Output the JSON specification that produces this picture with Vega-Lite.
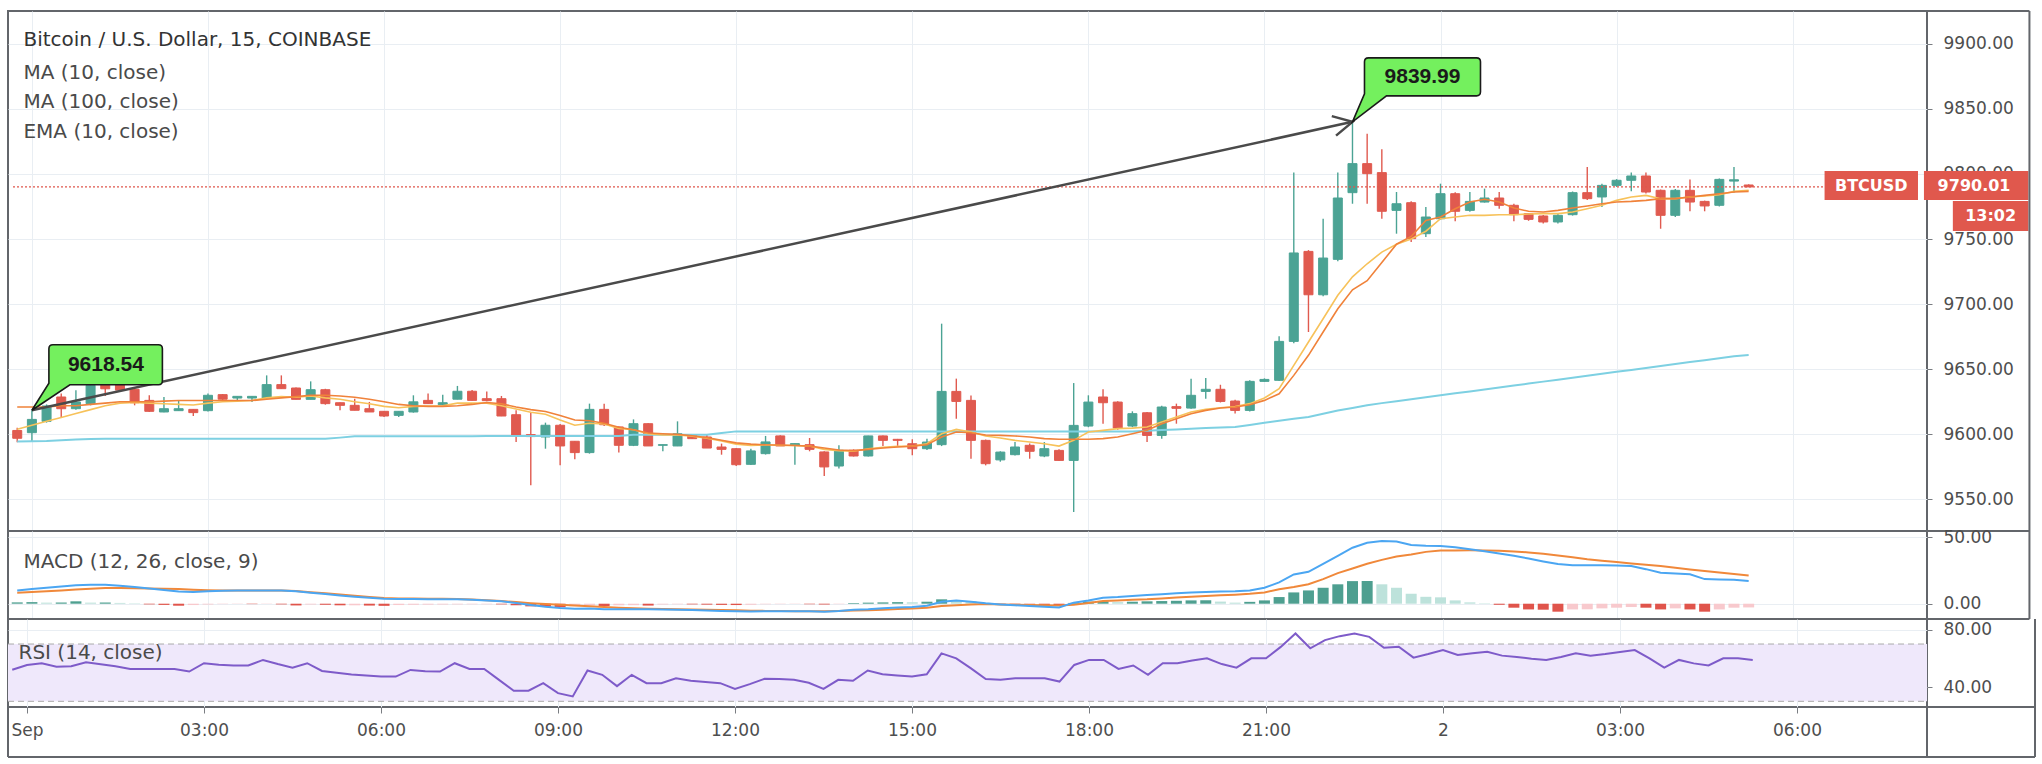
{
  "$schema": "https://vega.github.io/schema/vega-lite/v6.json",
  "padding": {"left": 6, "top": 9, "right": 0, "bottom": 0},
  "background": "white",
  "bounds": "flush",
  "spacing": 0,
  "datasets": {
    "bars": [
      {"t":"2019-08-31T23:45:00Z","o":9603,"h":9605,"l":9594,"c":9597,"ma":9621,"ema":9604,"ma100":9594.5,"m":10,"s":8.3,"hi":1.0,"r":52},
      {"t":"2019-09-01T00:00:00Z","o":9601.3,"h":9618.5,"l":9594.7,"c":9611.5,"ma":9621,"ema":9607,"ma100":9594.8,"m":11,"s":8.8,"hi":1.2,"r":55.4},
      {"t":"2019-09-01T00:15:00Z","o":9610,"h":9623,"l":9609,"c":9621.8,"ma":9621,"ema":9610,"ma100":9595,"m":12,"s":9.3,"hi":0.8,"r":56.6},
      {"t":"2019-09-01T00:30:00Z","o":9628.7,"h":9631.3,"l":9612.6,"c":9619.7,"ma":9622,"ema":9613,"ma100":9595.5,"m":13,"s":10,"hi":0.9,"r":54.2},
      {"t":"2019-09-01T00:45:00Z","o":9619.7,"h":9633.8,"l":9619,"c":9624.9,"ma":9622,"ema":9616,"ma100":9596,"m":13.8,"s":10.7,"hi":1.8,"r":54.5},
      {"t":"2019-09-01T01:00:00Z","o":9623.6,"h":9639,"l":9622.3,"c":9637.7,"ma":9623,"ema":9619,"ma100":9596.5,"m":14.2,"s":11.3,"hi":0.8,"r":57.2},
      {"t":"2019-09-01T01:15:00Z","o":9639,"h":9640,"l":9629.5,"c":9635,"ma":9624,"ema":9622,"ma100":9596.7,"m":14.3,"s":11.8,"hi":0.9,"r":55.9},
      {"t":"2019-09-01T01:30:00Z","o":9638,"h":9639,"l":9633,"c":9634,"ma":9625,"ema":9624,"ma100":9596.7,"m":13.5,"s":11.8,"hi":0.6,"r":54.5},
      {"t":"2019-09-01T01:45:00Z","o":9634.6,"h":9635,"l":9622.3,"c":9624.3,"ma":9625,"ema":9624.5,"ma100":9596.7,"m":12.6,"s":11.6,"hi":0.3,"r":52.6},
      {"t":"2019-09-01T02:00:00Z","o":9626.1,"h":9630,"l":9617.2,"c":9617.7,"ma":9625,"ema":9624,"ma100":9596.7,"m":11.5,"s":11.4,"hi":-0.5,"r":52.6},
      {"t":"2019-09-01T02:15:00Z","o":9617.2,"h":9628.7,"l":9617,"c":9619.7,"ma":9625.5,"ema":9623.5,"ma100":9596.7,"m":10.3,"s":11.2,"hi":-0.9,"r":52.6},
      {"t":"2019-09-01T02:30:00Z","o":9618.2,"h":9626,"l":9618,"c":9619.7,"ma":9626,"ema":9623,"ma100":9596.7,"m":9.2,"s":11,"hi":-1.5,"r":52.5},
      {"t":"2019-09-01T02:45:00Z","o":9619.2,"h":9619.5,"l":9614.1,"c":9616.7,"ma":9626,"ema":9622.5,"ma100":9596.7,"m":8.8,"s":10.5,"hi":-1.0,"r":50.8},
      {"t":"2019-09-01T03:00:00Z","o":9618.2,"h":9631.3,"l":9617.5,"c":9630,"ma":9626,"ema":9624,"ma100":9596.7,"m":9.3,"s":10.2,"hi":-0.6,"r":56.6},
      {"t":"2019-09-01T03:15:00Z","o":9630.5,"h":9631,"l":9625.4,"c":9627,"ma":9626,"ema":9625,"ma100":9596.7,"m":9.7,"s":10,"hi":-0.3,"r":55.5},
      {"t":"2019-09-01T03:30:00Z","o":9627.9,"h":9629.2,"l":9625.4,"c":9629.2,"ma":9626,"ema":9625.5,"ma100":9596.7,"m":10,"s":10,"hi":-0.2,"r":55},
      {"t":"2019-09-01T03:45:00Z","o":9627.9,"h":9629.2,"l":9624.9,"c":9629.2,"ma":9626,"ema":9626,"ma100":9596.7,"m":10,"s":10,"hi":-0.3,"r":55},
      {"t":"2019-09-01T04:00:00Z","o":9627.9,"h":9645.3,"l":9627.4,"c":9638.2,"ma":9627,"ema":9628,"ma100":9596.7,"m":10,"s":10,"hi":-0.2,"r":58.9},
      {"t":"2019-09-01T04:15:00Z","o":9638.2,"h":9645.3,"l":9635,"c":9635.1,"ma":9628,"ema":9629,"ma100":9596.7,"m":10,"s":10,"hi":-0.5,"r":56},
      {"t":"2019-09-01T04:30:00Z","o":9635.6,"h":9636,"l":9626.9,"c":9626.9,"ma":9629,"ema":9628.5,"ma100":9596.7,"m":9.3,"s":9.6,"hi":-1.3,"r":53.5},
      {"t":"2019-09-01T04:45:00Z","o":9626.9,"h":9640.7,"l":9626.9,"c":9634.3,"ma":9630,"ema":9629.5,"ma100":9596.7,"m":8.2,"s":8.6,"hi":-0.6,"r":56.6},
      {"t":"2019-09-01T05:00:00Z","o":9634.3,"h":9635,"l":9622.8,"c":9623.6,"ma":9630,"ema":9628,"ma100":9596.7,"m":7.3,"s":7.8,"hi":-0.8,"r":51.2},
      {"t":"2019-09-01T05:15:00Z","o":9624.3,"h":9624.5,"l":9618.5,"c":9622.3,"ma":9629.5,"ema":9627,"ma100":9597.5,"m":6.2,"s":7,"hi":-1.2,"r":50},
      {"t":"2019-09-01T05:30:00Z","o":9622.3,"h":9627.4,"l":9618.5,"c":9618.5,"ma":9628.5,"ema":9625,"ma100":9598.5,"m":5.2,"s":6,"hi":-1.2,"r":48.8},
      {"t":"2019-09-01T05:45:00Z","o":9619.7,"h":9624.9,"l":9617.2,"c":9617.2,"ma":9627,"ema":9623.5,"ma100":9598.5,"m":4.4,"s":5.1,"hi":-1.4,"r":48},
      {"t":"2019-09-01T06:00:00Z","o":9617.7,"h":9618,"l":9613.3,"c":9614.1,"ma":9625,"ema":9621.5,"ma100":9598.5,"m":3.8,"s":4.3,"hi":-1.6,"r":47.3},
      {"t":"2019-09-01T06:15:00Z","o":9614.6,"h":9617.7,"l":9613.3,"c":9617.7,"ma":9623,"ema":9620.5,"ma100":9598.5,"m":3.6,"s":4,"hi":-1.0,"r":47.3},
      {"t":"2019-09-01T06:30:00Z","o":9617.2,"h":9630,"l":9616.7,"c":9625,"ma":9622,"ema":9621.5,"ma100":9598.5,"m":3.5,"s":3.9,"hi":-0.8,"r":51.9},
      {"t":"2019-09-01T06:45:00Z","o":9626.1,"h":9631.3,"l":9623.6,"c":9623.6,"ma":9621.5,"ema":9621.7,"ma100":9598.5,"m":3.4,"s":3.8,"hi":-0.7,"r":51},
      {"t":"2019-09-01T07:00:00Z","o":9622.8,"h":9630.5,"l":9622.3,"c":9624.3,"ma":9621.5,"ema":9622,"ma100":9598.5,"m":3.3,"s":3.8,"hi":-0.6,"r":50.8},
      {"t":"2019-09-01T07:15:00Z","o":9627,"h":9637.2,"l":9626.9,"c":9633.1,"ma":9622,"ema":9624,"ma100":9598.5,"m":3.3,"s":3.6,"hi":-0.5,"r":56.6},
      {"t":"2019-09-01T07:30:00Z","o":9633.1,"h":9634,"l":9626,"c":9626.1,"ma":9623,"ema":9624,"ma100":9598.6,"m":3.0,"s":3.2,"hi":-0.4,"r":52.6},
      {"t":"2019-09-01T07:45:00Z","o":9627.4,"h":9633,"l":9625.5,"c":9625.9,"ma":9624.5,"ema":9624,"ma100":9598.7,"m":2.5,"s":2.6,"hi":-0.4,"r":52.6},
      {"t":"2019-09-01T08:00:00Z","o":9627.4,"h":9629.5,"l":9614,"c":9614.1,"ma":9623.5,"ema":9622,"ma100":9598.7,"m":1.8,"s":2.0,"hi":-0.5,"r":45},
      {"t":"2019-09-01T08:15:00Z","o":9615.1,"h":9618.5,"l":9594.1,"c":9599.3,"ma":9621,"ema":9619.5,"ma100":9598.7,"m":0.5,"s":1.2,"hi":-1.2,"r":37.4},
      {"t":"2019-09-01T08:30:00Z","o":9599.8,"h":9616.7,"l":9560.9,"c":9598.3,"ma":9619,"ema":9617,"ma100":9598.7,"m":-1,"s":0.4,"hi":-2.0,"r":37.4},
      {"t":"2019-09-01T08:45:00Z","o":9598,"h":9609,"l":9589,"c":9607,"ma":9617.5,"ema":9615.5,"ma100":9598.7,"m":-2.3,"s":-0.2,"hi":-2.3,"r":42.7},
      {"t":"2019-09-01T09:00:00Z","o":9607,"h":9608,"l":9576.2,"c":9591.1,"ma":9614.5,"ema":9611,"ma100":9598.7,"m":-3.2,"s":-0.8,"hi":-2.6,"r":35.7},
      {"t":"2019-09-01T09:15:00Z","o":9594.7,"h":9595,"l":9580.8,"c":9586,"ma":9611,"ema":9607,"ma100":9598.7,"m":-3.8,"s":-1.4,"hi":-1.9,"r":33.4},
      {"t":"2019-09-01T09:30:00Z","o":9586,"h":9623.6,"l":9585.2,"c":9619.2,"ma":9610.5,"ema":9608.5,"ma100":9598.7,"m":-3.6,"s":-2,"hi":-1.2,"r":51.5},
      {"t":"2019-09-01T09:45:00Z","o":9619.2,"h":9623.6,"l":9606.4,"c":9607.4,"ma":9608.5,"ema":9608,"ma100":9598.7,"m":-4.2,"s":-2.5,"hi":-1.8,"r":48.5},
      {"t":"2019-09-01T10:00:00Z","o":9605.7,"h":9606,"l":9586,"c":9591.6,"ma":9605.5,"ema":9604.5,"ma100":9598.7,"m":-4.2,"s":-3,"hi":-1.2,"r":40.6},
      {"t":"2019-09-01T10:15:00Z","o":9591.6,"h":9611.5,"l":9591,"c":9608.2,"ma":9603.5,"ema":9603.5,"ma100":9599.8,"m":-4.2,"s":-3.4,"hi":-1.1,"r":48.5},
      {"t":"2019-09-01T10:30:00Z","o":9608.2,"h":9608.5,"l":9591,"c":9591.1,"ma":9601,"ema":9600.5,"ma100":9599.8,"m":-4.2,"s":-3.7,"hi":-1.4,"r":42.7},
      {"t":"2019-09-01T10:45:00Z","o":9591.6,"h":9592.1,"l":9587,"c":9592.1,"ma":9600.5,"ema":9599.5,"ma100":9599.8,"m":-4.4,"s":-4,"hi":-0.6,"r":42.7},
      {"t":"2019-09-01T11:00:00Z","o":9591.1,"h":9610,"l":9591,"c":9600.5,"ma":9600,"ema":9599.5,"ma100":9599.8,"m":-4.5,"s":-4.2,"hi":-0.4,"r":46.1},
      {"t":"2019-09-01T11:15:00Z","o":9599.3,"h":9599.5,"l":9596.5,"c":9596.7,"ma":9599,"ema":9598.5,"ma100":9599.8,"m":-4.8,"s":-4.4,"hi":-0.5,"r":44.3},
      {"t":"2019-09-01T11:30:00Z","o":9598,"h":9599.8,"l":9589.5,"c":9589.5,"ma":9597.5,"ema":9597,"ma100":9599.8,"m":-5.1,"s":-4.6,"hi":-0.7,"r":43.5},
      {"t":"2019-09-01T11:45:00Z","o":9590.3,"h":9592.9,"l":9584.4,"c":9588.5,"ma":9595.5,"ema":9595,"ma100":9601,"m":-5.4,"s":-4.8,"hi":-0.9,"r":42.7},
      {"t":"2019-09-01T12:00:00Z","o":9589,"h":9589.5,"l":9575.7,"c":9576.7,"ma":9593.5,"ema":9592.5,"ma100":9602.3,"m":-5.7,"s":-5,"hi":-1.0,"r":38.7},
      {"t":"2019-09-01T12:15:00Z","o":9577,"h":9589,"l":9576.5,"c":9587.3,"ma":9592.5,"ema":9591.5,"ma100":9602.3,"m":-5.8,"s":-5.2,"hi":-0.8,"r":42},
      {"t":"2019-09-01T12:30:00Z","o":9585.2,"h":9598.8,"l":9584.5,"c":9594.2,"ma":9592,"ema":9592,"ma100":9602.3,"m":-5.6,"s":-5.4,"hi":-0.4,"r":45.7},
      {"t":"2019-09-01T12:45:00Z","o":9598.8,"h":9599.3,"l":9591,"c":9591.1,"ma":9591.8,"ema":9591.5,"ma100":9602.3,"m":-5.6,"s":-5.5,"hi":-0.3,"r":45.5},
      {"t":"2019-09-01T13:00:00Z","o":9591.6,"h":9593,"l":9576.7,"c":9592.9,"ma":9591.5,"ema":9591.5,"ma100":9602.3,"m":-5.6,"s":-5.6,"hi":-0.2,"r":45},
      {"t":"2019-09-01T13:15:00Z","o":9592.1,"h":9597.2,"l":9587,"c":9588.5,"ma":9591,"ema":9591,"ma100":9602.3,"m":-5.7,"s":-5.7,"hi":-0.4,"r":43},
      {"t":"2019-09-01T13:30:00Z","o":9586.5,"h":9587,"l":9568,"c":9575,"ma":9589.5,"ema":9588.5,"ma100":9602.3,"m":-6,"s":-5.7,"hi":-0.6,"r":38.7},
      {"t":"2019-09-01T13:45:00Z","o":9575.7,"h":9591.6,"l":9573.7,"c":9587.8,"ma":9588,"ema":9587.5,"ma100":9602.3,"m":-5.5,"s":-5.5,"hi":-0.3,"r":45},
      {"t":"2019-09-01T14:00:00Z","o":9587.8,"h":9588.5,"l":9583,"c":9583.4,"ma":9587.5,"ema":9587,"ma100":9602.3,"m":-4.5,"s":-5.1,"hi":0.5,"r":44.3},
      {"t":"2019-09-01T14:15:00Z","o":9583.4,"h":9599,"l":9583,"c":9598.8,"ma":9588.5,"ema":9589,"ma100":9602.3,"m":-4.2,"s":-5,"hi":0.8,"r":51.5},
      {"t":"2019-09-01T14:30:00Z","o":9598.8,"h":9599.2,"l":9591.1,"c":9595.4,"ma":9589.5,"ema":9590,"ma100":9602.3,"m":-3.5,"s":-4.5,"hi":1.0,"r":48.9},
      {"t":"2019-09-01T14:45:00Z","o":9596.2,"h":9596.5,"l":9591.1,"c":9595.4,"ma":9590.3,"ema":9590.8,"ma100":9602.3,"m":-2.8,"s":-4,"hi":1.2,"r":48},
      {"t":"2019-09-01T15:00:00Z","o":9592.8,"h":9596.2,"l":9583.9,"c":9589,"ma":9591,"ema":9591,"ma100":9602.3,"m":-2.5,"s":-3.6,"hi":1.1,"r":47.3},
      {"t":"2019-09-01T15:15:00Z","o":9589,"h":9596.7,"l":9588,"c":9594.1,"ma":9592,"ema":9592.8,"ma100":9602.3,"m":-1.5,"s":-3,"hi":1.5,"r":48.9},
      {"t":"2019-09-01T15:30:00Z","o":9592.1,"h":9685,"l":9591,"c":9633,"ma":9598,"ema":9600.5,"ma100":9602.3,"m":1.5,"s":-1.8,"hi":3.3,"r":63.5},
      {"t":"2019-09-01T15:45:00Z","o":9633,"h":9642.8,"l":9612,"c":9625.3,"ma":9601.8,"ema":9603.8,"ma100":9602.3,"m":2.5,"s":-1.2,"hi":2.5,"r":60},
      {"t":"2019-09-01T16:00:00Z","o":9626.1,"h":9629.9,"l":9581.3,"c":9595.4,"ma":9601.3,"ema":9601.8,"ma100":9602.3,"m":1.5,"s":-0.6,"hi":2.0,"r":53},
      {"t":"2019-09-01T16:15:00Z","o":9595.4,"h":9596,"l":9576.2,"c":9577.5,"ma":9599.5,"ema":9598.7,"ma100":9602.3,"m":0.3,"s":-0.3,"hi":0.6,"r":45.5},
      {"t":"2019-09-01T16:30:00Z","o":9580.4,"h":9587,"l":9579,"c":9586.4,"ma":9599.2,"ema":9597.2,"ma100":9602.3,"m":-0.5,"s":-0.5,"hi":-0.9,"r":45},
      {"t":"2019-09-01T16:45:00Z","o":9584.4,"h":9594.1,"l":9583.8,"c":9590.3,"ma":9598.8,"ema":9595.4,"ma100":9602.3,"m":-1.2,"s":-0.8,"hi":-1.0,"r":46.1},
      {"t":"2019-09-01T17:00:00Z","o":9591.6,"h":9593,"l":9581.3,"c":9587,"ma":9598,"ema":9594.1,"ma100":9602.3,"m":-1.8,"s":-1,"hi":-1.1,"r":46.1},
      {"t":"2019-09-01T17:15:00Z","o":9583.4,"h":9594.1,"l":9582.5,"c":9589,"ma":9596.7,"ema":9592.8,"ma100":9602.3,"m":-2.3,"s":-1.2,"hi":-1.2,"r":46.1},
      {"t":"2019-09-01T17:30:00Z","o":9587.7,"h":9588.5,"l":9579.5,"c":9580,"ma":9596.2,"ema":9591,"ma100":9602.3,"m":-2.8,"s":-1.4,"hi":-1.4,"r":43.8},
      {"t":"2019-09-01T17:45:00Z","o":9580,"h":9639.4,"l":9540.4,"c":9606.9,"ma":9596.2,"ema":9595.4,"ma100":9602.3,"m":0.8,"s":-0.8,"hi":0.6,"r":55.4},
      {"t":"2019-09-01T18:00:00Z","o":9606.4,"h":9630,"l":9605.5,"c":9624.8,"ma":9596.2,"ema":9601.8,"ma100":9602.3,"m":2.5,"s":0.5,"hi":1.6,"r":58.9},
      {"t":"2019-09-01T18:15:00Z","o":9628.7,"h":9634.6,"l":9608.2,"c":9624.3,"ma":9596.7,"ema":9603.1,"ma100":9602.3,"m":4.5,"s":2,"hi":1.8,"r":58.9},
      {"t":"2019-09-01T18:30:00Z","o":9624.8,"h":9625.5,"l":9603.5,"c":9604.9,"ma":9598,"ema":9604.4,"ma100":9602.3,"m":5,"s":2.5,"hi":1.2,"r":52.6},
      {"t":"2019-09-01T18:45:00Z","o":9606.4,"h":9617.7,"l":9605.5,"c":9615.9,"ma":9600.5,"ema":9604.8,"ma100":9602.3,"m":5.8,"s":3,"hi":1.5,"r":55},
      {"t":"2019-09-01T19:00:00Z","o":9616.6,"h":9617.2,"l":9594.1,"c":9599.2,"ma":9603.1,"ema":9605.6,"ma100":9602.8,"m":6.5,"s":3.3,"hi":1.8,"r":48.5},
      {"t":"2019-09-01T19:15:00Z","o":9599.2,"h":9622,"l":9596.7,"c":9621,"ma":9608.2,"ema":9609.5,"ma100":9603.3,"m":7.2,"s":4,"hi":2.0,"r":56.6},
      {"t":"2019-09-01T19:30:00Z","o":9621.3,"h":9623.6,"l":9608.2,"c":9620,"ma":9612,"ema":9613.3,"ma100":9603.8,"m":7.8,"s":4.6,"hi":2.2,"r":56.6},
      {"t":"2019-09-01T19:45:00Z","o":9620.2,"h":9642.8,"l":9619.7,"c":9630,"ma":9615.9,"ema":9617.2,"ma100":9604.3,"m":8.5,"s":5.3,"hi":2.5,"r":58.5},
      {"t":"2019-09-01T20:00:00Z","o":9633,"h":9643.3,"l":9627.4,"c":9634.6,"ma":9618.4,"ema":9619.2,"ma100":9604.8,"m":8.8,"s":5.8,"hi":2.6,"r":60},
      {"t":"2019-09-01T20:15:00Z","o":9634.6,"h":9638.1,"l":9624.5,"c":9625.3,"ma":9620.2,"ema":9620.5,"ma100":9605.2,"m":9.1,"s":6.3,"hi":1.6,"r":56},
      {"t":"2019-09-01T20:30:00Z","o":9625.6,"h":9626.5,"l":9616.1,"c":9618.4,"ma":9621,"ema":9621.3,"ma100":9605.6,"m":9.3,"s":6.8,"hi":0.8,"r":53.5},
      {"t":"2019-09-01T20:45:00Z","o":9618.4,"h":9641.5,"l":9617.5,"c":9640.7,"ma":9622.8,"ema":9623.6,"ma100":9607.2,"m":10,"s":7.5,"hi":1.4,"r":60},
      {"t":"2019-09-01T21:00:00Z","o":9640.7,"h":9643,"l":9640.5,"c":9642.2,"ma":9626.1,"ema":9627.9,"ma100":9608.9,"m":12,"s":8.5,"hi":2.5,"r":60},
      {"t":"2019-09-01T21:15:00Z","o":9641.5,"h":9675.3,"l":9641,"c":9671.4,"ma":9631.2,"ema":9635,"ma100":9610.5,"m":16,"s":10.8,"hi":5,"r":68},
      {"t":"2019-09-01T21:30:00Z","o":9671.4,"h":9801,"l":9670,"c":9739.3,"ma":9645.3,"ema":9653,"ma100":9612,"m":22,"s":12.5,"hi":8.5,"r":77.4},
      {"t":"2019-09-01T21:45:00Z","o":9740.5,"h":9741.5,"l":9678.6,"c":9707.2,"ma":9660.7,"ema":9670.9,"ma100":9613.3,"m":24,"s":14.6,"hi":10,"r":67},
      {"t":"2019-09-01T22:00:00Z","o":9707.2,"h":9765.6,"l":9706,"c":9735.4,"ma":9678.6,"ema":9688.8,"ma100":9615.8,"m":30,"s":18.5,"hi":12,"r":72.7},
      {"t":"2019-09-01T22:15:00Z","o":9734.4,"h":9801,"l":9733,"c":9781.5,"ma":9696.5,"ema":9706.8,"ma100":9618.4,"m":36,"s":23,"hi":14.6,"r":75.5},
      {"t":"2019-09-01T22:30:00Z","o":9785.6,"h":9839.99,"l":9777.1,"c":9807.9,"ma":9711,"ema":9721,"ma100":9620.3,"m":42.1,"s":26.5,"hi":17,"r":77.4},
      {"t":"2019-09-01T22:45:00Z","o":9807.9,"h":9830.9,"l":9777.1,"c":9800.2,"ma":9718,"ema":9731,"ma100":9622.3,"m":45.9,"s":30,"hi":17.1,"r":75},
      {"t":"2019-09-01T23:00:00Z","o":9801,"h":9818.9,"l":9765.6,"c":9771.3,"ma":9732,"ema":9740,"ma100":9624,"m":47.1,"s":33,"hi":14.6,"r":67.4},
      {"t":"2019-09-01T23:15:00Z","o":9772,"h":9786.1,"l":9754.1,"c":9777.1,"ma":9746,"ema":9746,"ma100":9625.5,"m":46.8,"s":35.5,"hi":12,"r":68.1},
      {"t":"2019-09-01T23:30:00Z","o":9777.9,"h":9779,"l":9747.7,"c":9750.3,"ma":9752,"ema":9750,"ma100":9627,"m":44.1,"s":37,"hi":7.5,"r":60.5},
      {"t":"2019-09-01T23:45:00Z","o":9754.1,"h":9774.6,"l":9751.6,"c":9766.9,"ma":9764.3,"ema":9756,"ma100":9628.5,"m":43.6,"s":39,"hi":5.2,"r":63},
      {"t":"2019-09-02T00:00:00Z","o":9765.6,"h":9792.5,"l":9765,"c":9784.8,"ma":9766.9,"ema":9765.6,"ma100":9630,"m":43.4,"s":40,"hi":4.8,"r":65.8},
      {"t":"2019-09-02T00:15:00Z","o":9784.8,"h":9786,"l":9763.6,"c":9771.3,"ma":9773.3,"ema":9766.9,"ma100":9631.5,"m":42.5,"s":40.1,"hi":2.5,"r":62.3},
      {"t":"2019-09-02T00:30:00Z","o":9772,"h":9786.1,"l":9771,"c":9778.9,"ma":9778.4,"ema":9768.2,"ma100":9633,"m":41,"s":40.2,"hi":1.0,"r":63.5},
      {"t":"2019-09-02T00:45:00Z","o":9778.4,"h":9788.7,"l":9778,"c":9781.5,"ma":9780.5,"ema":9768.2,"ma100":9634.5,"m":39.5,"s":40.1,"hi":0.3,"r":64.6},
      {"t":"2019-09-02T01:00:00Z","o":9781.5,"h":9786.1,"l":9773.3,"c":9775.9,"ma":9778.4,"ema":9768.7,"ma100":9636,"m":37.8,"s":39.8,"hi":-0.8,"r":61.9},
      {"t":"2019-09-02T01:15:00Z","o":9775.9,"h":9777,"l":9763.6,"c":9768.7,"ma":9773.8,"ema":9768.7,"ma100":9637.5,"m":36,"s":39.3,"hi":-3,"r":61},
      {"t":"2019-09-02T01:30:00Z","o":9769.5,"h":9770,"l":9764,"c":9765.1,"ma":9771.3,"ema":9769.2,"ma100":9639,"m":34,"s":38.6,"hi":-4.3,"r":59.8},
      {"t":"2019-09-02T01:45:00Z","o":9767.7,"h":9768.5,"l":9762,"c":9763.1,"ma":9770.8,"ema":9769.5,"ma100":9640.5,"m":31.8,"s":37.5,"hi":-4.5,"r":58.9},
      {"t":"2019-09-02T02:00:00Z","o":9763.1,"h":9769.5,"l":9762,"c":9768.2,"ma":9772,"ema":9769.5,"ma100":9642,"m":29.8,"s":36.2,"hi":-6,"r":61},
      {"t":"2019-09-02T02:15:00Z","o":9768.7,"h":9786.5,"l":9768,"c":9785.6,"ma":9773.8,"ema":9770.8,"ma100":9643.5,"m":29,"s":35,"hi":-4.3,"r":63.5},
      {"t":"2019-09-02T02:30:00Z","o":9785.6,"h":9805.3,"l":9780,"c":9781,"ma":9775.4,"ema":9773.3,"ma100":9645,"m":28.9,"s":33.4,"hi":-4.2,"r":61.9},
      {"t":"2019-09-02T02:45:00Z","o":9782.3,"h":9792.5,"l":9774.6,"c":9791.2,"ma":9777.1,"ema":9775.9,"ma100":9646.5,"m":28.9,"s":32.3,"hi":-3.5,"r":63},
      {"t":"2019-09-02T03:00:00Z","o":9791.2,"h":9796,"l":9790,"c":9795.1,"ma":9778.4,"ema":9779.7,"ma100":9648,"m":28.7,"s":31.3,"hi":-3,"r":64.5},
      {"t":"2019-09-02T03:15:00Z","o":9795.1,"h":9801,"l":9786.6,"c":9798.4,"ma":9778.9,"ema":9782.3,"ma100":9649.5,"m":28.4,"s":30.3,"hi":-2.5,"r":65.8},
      {"t":"2019-09-02T03:30:00Z","o":9798.4,"h":9801,"l":9785,"c":9786.1,"ma":9779.7,"ema":9783.5,"ma100":9651,"m":26,"s":29.3,"hi":-3,"r":60},
      {"t":"2019-09-02T03:45:00Z","o":9787.4,"h":9788,"l":9757.9,"c":9768.2,"ma":9781,"ema":9781,"ma100":9652.5,"m":23.3,"s":28.4,"hi":-4.3,"r":53.5},
      {"t":"2019-09-02T04:00:00Z","o":9768.2,"h":9788.5,"l":9767,"c":9787.4,"ma":9781,"ema":9781,"ma100":9654,"m":22.8,"s":27,"hi":-3.5,"r":58.9},
      {"t":"2019-09-02T04:15:00Z","o":9787.4,"h":9795.8,"l":9771.3,"c":9778.4,"ma":9782.3,"ema":9782.3,"ma100":9655.5,"m":22.1,"s":25.8,"hi":-4.3,"r":56.5},
      {"t":"2019-09-02T04:30:00Z","o":9778.9,"h":9779.5,"l":9771.3,"c":9775.4,"ma":9783.5,"ema":9783,"ma100":9657,"m":18.5,"s":24.6,"hi":-6,"r":55},
      {"t":"2019-09-02T04:45:00Z","o":9775.9,"h":9796.5,"l":9775,"c":9795.8,"ma":9784.8,"ema":9784,"ma100":9658.5,"m":18.3,"s":23.5,"hi":-4.3,"r":60},
      {"t":"2019-09-02T05:00:00Z","o":9794.5,"h":9805.3,"l":9785.6,"c":9795.5,"ma":9786.1,"ema":9786.6,"ma100":9660,"m":18,"s":22.4,"hi":-3,"r":60},
      {"t":"2019-09-02T05:15:00Z","o":9791.5,"h":9792,"l":9790,"c":9790.01,"ma":9786.6,"ema":9787.4,"ma100":9661,"m":17.1,"s":21.3,"hi":-2.8,"r":58.9}
    ]
  },
  "vconcat": [
    {
      "width": 1919,
      "height": 520,
      "data": {"name": "bars"},
      "layer": [
        {
          "mark": {"type": "rule", "strokeWidth": 1.4, "clip": true},
          "encoding": {
            "x": {"field": "t", "type": "temporal", "scale": {"type": "utc", "domain": [1567294841000, 1567411932000]},
                  "axis": {"values": [1567296000000, 1567306800000, 1567317600000, 1567328400000, 1567339200000, 1567350000000, 1567360800000, 1567371600000, 1567382400000, 1567393200000, 1567404000000], "labels": false, "ticks": false, "grid": true, "title": null}},
            "y": {"field": "l", "type": "quantitative", "scale": {"domain": [9525.8, 9925.1], "nice": false, "zero": false},
                  "axis": {"orient": "right", "values": [9550, 9600, 9650, 9700, 9750, 9800, 9850, 9900], "format": ".2f", "tickSize": 5, "labelPadding": 11, "grid": true, "title": null}},
            "y2": {"field": "h"},
            "color": {"condition": {"test": "datum.c >= datum.o", "value": "#4BA394"}, "value": "#E05A4F"}
          }
        },
        {
          "mark": {"type": "bar", "width": 9, "strokeWidth": 1, "clip": true},
          "encoding": {
            "x": {"field": "t", "type": "temporal"},
            "y": {"field": "o", "type": "quantitative"},
            "y2": {"field": "c"},
            "color": {"condition": {"test": "datum.c >= datum.o", "value": "#4BA394"}, "value": "#E05A4F"},
            "stroke": {"condition": {"test": "datum.c >= datum.o", "value": "#4BA394"}, "value": "#E05A4F"}
          }
        },
        {
          "mark": {"type": "line", "color": "#7DD0E2", "strokeWidth": 2, "clip": true},
          "encoding": {"x": {"field": "t", "type": "temporal"}, "y": {"field": "ma100", "type": "quantitative"}}
        },
        {
          "mark": {"type": "line", "color": "#F7C25A", "strokeWidth": 1.6, "clip": true},
          "encoding": {"x": {"field": "t", "type": "temporal"}, "y": {"field": "ema", "type": "quantitative"}}
        },
        {
          "mark": {"type": "line", "color": "#F0823A", "strokeWidth": 1.6, "clip": true},
          "encoding": {"x": {"field": "t", "type": "temporal"}, "y": {"field": "ma", "type": "quantitative"}}
        },
        {
          "data": {"values": [{}]},
          "mark": {"type": "rule", "color": "#E0574C", "strokeDash": [2, 2], "strokeWidth": 1.2},
          "encoding": {"x": {"datum": 1567294841000, "type": "temporal"}, "x2": {"datum": 1567405956000}, "y": {"datum": 9790.01, "type": "quantitative"}}
        },
        {
          "data": {"values": [{}]},
          "mark": {"type": "rule", "color": "#4a4a4a", "strokeWidth": 2.5},
          "encoding": {"x": {"datum": 1567296000000, "type": "temporal"}, "x2": {"datum": 1567377000000}, "y": {"datum": 9618.54, "type": "quantitative"}, "y2": {"datum": 9839.99}}
        },
        {
          "data": {"values": [{}]},
          "mark": {"type": "point", "shape": "M-19,-10L0,0L-19,10", "size": 4, "filled": false, "color": "#4a4a4a", "strokeWidth": 2.5, "opacity": 1, "angle": 347.74},
          "encoding": {"x": {"datum": 1567377000000, "type": "temporal"}, "y": {"datum": 9839.99, "type": "quantitative"}}
        },
        {
          "data": {"values": [{}]},
          "mark": {"type": "point", "shape": "M0,0L17,-27L17,-61.5Q17,-65.5 21,-65.5L126.5,-65.5Q130.5,-65.5 130.5,-61.5L130.5,-29.5Q130.5,-25.5 126.5,-25.5L38,-25.5Z", "size": 4, "filled": true, "fill": "#74F05E", "stroke": "#1a1a1a", "strokeWidth": 1.6, "opacity": 1},
          "encoding": {"x": {"datum": 1567296000000, "type": "temporal"}, "y": {"datum": 9618.54, "type": "quantitative"}}
        },
        {
          "data": {"values": [{}]},
          "mark": {"type": "text", "text": "9618.54", "font": "Liberation Sans", "fontWeight": "bold", "fontSize": 21, "color": "#1a1a1a", "align": "center", "baseline": "middle", "dx": 74, "dy": -45},
          "encoding": {"x": {"datum": 1567296000000, "type": "temporal"}, "y": {"datum": 9618.54, "type": "quantitative"}}
        },
        {
          "data": {"values": [{}]},
          "mark": {"type": "point", "shape": "M0,0L12,-28L12,-60Q12,-64 16,-64L124,-64Q128,-64 128,-60L128,-30Q128,-26 124,-26L34,-26Z", "size": 4, "filled": true, "fill": "#74F05E", "stroke": "#1a1a1a", "strokeWidth": 1.6, "opacity": 1},
          "encoding": {"x": {"datum": 1567377000000, "type": "temporal"}, "y": {"datum": 9839.99, "type": "quantitative"}}
        },
        {
          "data": {"values": [{}]},
          "mark": {"type": "text", "text": "9839.99", "font": "Liberation Sans", "fontWeight": "bold", "fontSize": 21, "color": "#1a1a1a", "align": "center", "baseline": "middle", "dx": 70, "dy": -45},
          "encoding": {"x": {"datum": 1567377000000, "type": "temporal"}, "y": {"datum": 9839.99, "type": "quantitative"}}
        },
        {
          "data": {"values": [{}]},
          "mark": {"type": "text", "text": "Bitcoin / U.S. Dollar, 15, COINBASE", "font": "DejaVu Sans", "fontSize": 20, "color": "#333333", "align": "left", "baseline": "middle"},
          "encoding": {"x": {"datum": 1567295482000, "type": "temporal"}, "y": {"datum": 9903, "type": "quantitative"}}
        },
        {
          "data": {"values": [{}]},
          "mark": {"type": "text", "text": "MA (10, close)", "font": "DejaVu Sans", "fontSize": 20, "color": "#4a4a4a", "align": "left", "baseline": "middle"},
          "encoding": {"x": {"datum": 1567295482000, "type": "temporal"}, "y": {"datum": 9877.5, "type": "quantitative"}}
        },
        {
          "data": {"values": [{}]},
          "mark": {"type": "text", "text": "MA (100, close)", "font": "DejaVu Sans", "fontSize": 20, "color": "#4a4a4a", "align": "left", "baseline": "middle"},
          "encoding": {"x": {"datum": 1567295482000, "type": "temporal"}, "y": {"datum": 9855.2, "type": "quantitative"}}
        },
        {
          "data": {"values": [{}]},
          "mark": {"type": "text", "text": "EMA (10, close)", "font": "DejaVu Sans", "fontSize": 20, "color": "#4a4a4a", "align": "left", "baseline": "middle"},
          "encoding": {"x": {"datum": 1567295482000, "type": "temporal"}, "y": {"datum": 9832.2, "type": "quantitative"}}
        },
        {
          "data": {"values": [{}]},
          "mark": {"type": "rect", "color": "#E0584D", "clip": false},
          "encoding": {"x": {"datum": 1567405956000, "type": "temporal"}, "x2": {"datum": 1567411686000}, "y": {"datum": 9802.25, "type": "quantitative"}, "y2": {"datum": 9779.98}}
        },
        {
          "data": {"values": [{}]},
          "mark": {"type": "text", "text": "BTCUSD", "font": "DejaVu Sans", "fontWeight": "bold", "fontSize": 16, "color": "white", "align": "center", "baseline": "middle", "clip": false},
          "encoding": {"x": {"datum": 1567408820000, "type": "temporal"}, "y": {"datum": 9791.1, "type": "quantitative"}}
        },
        {
          "data": {"values": [{}]},
          "mark": {"type": "rect", "color": "#E0584D", "clip": false},
          "encoding": {"x": {"datum": 1567412052000, "type": "temporal"}, "x2": {"datum": 1567418460000}, "y": {"datum": 9802.25, "type": "quantitative"}, "y2": {"datum": 9779.98}}
        },
        {
          "data": {"values": [{}]},
          "mark": {"type": "text", "text": "9790.01", "font": "DejaVu Sans", "fontWeight": "bold", "fontSize": 16, "color": "white", "align": "left", "baseline": "middle", "clip": false},
          "encoding": {"x": {"datum": 1567412890000, "type": "temporal"}, "y": {"datum": 9791.1, "type": "quantitative"}}
        },
        {
          "data": {"values": [{}]},
          "mark": {"type": "rect", "color": "#E0584D", "clip": false},
          "encoding": {"x": {"datum": 1567413824000, "type": "temporal"}, "x2": {"datum": 1567418460000}, "y": {"datum": 9779.2, "type": "quantitative"}, "y2": {"datum": 9756.2}}
        },
        {
          "data": {"values": [{}]},
          "mark": {"type": "text", "text": "13:02", "font": "DejaVu Sans", "fontWeight": "bold", "fontSize": 16, "color": "white", "align": "center", "baseline": "middle", "clip": false},
          "encoding": {"x": {"datum": 1567416144000, "type": "temporal"}, "y": {"datum": 9767.7, "type": "quantitative"}}
        },
        {
          "data": {"values": [{}]},
          "mark": {"type": "rule", "color": "#63666b", "strokeWidth": 2, "clip": false},
          "encoding": {"x": {"datum": 1567411932000, "type": "temporal"}, "x2": {"datum": 1567418522000}, "y": {"datum": 9925.1, "type": "quantitative"}}
        },
        {
          "data": {"values": [{}]},
          "mark": {"type": "rule", "color": "#63666b", "strokeWidth": 2, "clip": false},
          "encoding": {"x": {"datum": 1567411932000, "type": "temporal"}, "x2": {"datum": 1567418522000}, "y": {"datum": 9525.8, "type": "quantitative"}}
        },
        {
          "data": {"values": [{}]},
          "mark": {"type": "rule", "color": "#63666b", "strokeWidth": 2, "clip": false},
          "encoding": {"x": {"datum": 1567418522000, "type": "temporal"}, "y": {"datum": 9525.8, "type": "quantitative"}, "y2": {"datum": 9925.1}}
        }
      ]
    },
    {
      "width": 1919,
      "height": 88,
      "data": {"name": "bars"},
      "layer": [
        {
          "transform": [{"window": [{"op": "lag", "field": "hi", "as": "ph"}], "sort": [{"field": "t"}]}],
          "mark": {"type": "bar", "width": 11, "clip": true},
          "encoding": {
            "x": {"field": "t", "type": "temporal", "scale": {"type": "utc", "domain": [1567294841000, 1567411932000]},
                  "axis": {"values": [1567296000000, 1567306800000, 1567317600000, 1567328400000, 1567339200000, 1567350000000, 1567360800000, 1567371600000, 1567382400000, 1567393200000, 1567404000000], "labels": false, "ticks": false, "grid": true, "title": null}},
            "y": {"field": "hi", "type": "quantitative", "scale": {"domain": [-11.5, 54.7], "nice": false, "zero": false},
                  "axis": {"orient": "right", "values": [0, 50], "format": ".2f", "tickSize": 5, "labelPadding": 11, "grid": true, "title": null}},
            "y2": {"datum": 0},
            "color": {"condition": [
              {"test": "datum.hi >= 0 && datum.hi >= datum.ph", "value": "#4E9F90"},
              {"test": "datum.hi >= 0", "value": "#BDE2DB"},
              {"test": "datum.hi < datum.ph", "value": "#E0544B"}
            ], "value": "#F8C9CD"}
          }
        },
        {
          "mark": {"type": "line", "color": "#F0883A", "strokeWidth": 2, "clip": true},
          "encoding": {"x": {"field": "t", "type": "temporal"}, "y": {"field": "s", "type": "quantitative"}}
        },
        {
          "mark": {"type": "line", "color": "#4BA6F2", "strokeWidth": 2, "clip": true},
          "encoding": {"x": {"field": "t", "type": "temporal"}, "y": {"field": "m", "type": "quantitative"}}
        },
        {
          "data": {"values": [{}]},
          "mark": {"type": "text", "text": "MACD (12, 26, close, 9)", "font": "DejaVu Sans", "fontSize": 20, "color": "#4a4a4a", "align": "left", "baseline": "middle"},
          "encoding": {"x": {"datum": 1567295482000, "type": "temporal"}, "y": {"datum": 31.5, "type": "quantitative"}}
        },
        {
          "data": {"values": [{}]},
          "mark": {"type": "rule", "color": "#63666b", "strokeWidth": 2, "clip": false},
          "encoding": {"x": {"datum": 1567411932000, "type": "temporal"}, "x2": {"datum": 1567418522000}, "y": {"datum": -11.5, "type": "quantitative"}}
        },
        {
          "data": {"values": [{}]},
          "mark": {"type": "rule", "color": "#63666b", "strokeWidth": 2, "clip": false},
          "encoding": {"x": {"datum": 1567418522000, "type": "temporal"}, "y": {"datum": -11.5, "type": "quantitative"}, "y2": {"datum": 54.7}}
        }
      ]
    },
    {
      "width": 1919,
      "height": 88,
      "data": {"name": "bars"},
      "layer": [
        {
          "data": {"values": [{}]},
          "mark": {"type": "rect", "color": "#EFE8FB"},
          "encoding": {
            "x": {"datum": 1567294841000, "type": "temporal", "scale": {"type": "utc", "domain": [1567294841000, 1567411932000]},
                  "axis": {"values": [1567296000000, 1567306800000, 1567317600000, 1567328400000, 1567339200000, 1567350000000, 1567360800000, 1567371600000, 1567382400000, 1567393200000, 1567404000000],
                           "labelExpr": "utchours(datum.value) == 0 ? (utcdate(datum.value) == 1 ? 'Sep' : '' + utcdate(datum.value)) : utcFormat(datum.value, '%H:%M')",
                           "tickSize": 6, "labelPadding": 9, "labelFontSize": 17, "labelFlush": false, "labelOverlap": false, "grid": true, "title": null}},
            "x2": {"datum": 1567411932000},
            "y": {"datum": 30, "type": "quantitative", "scale": {"domain": [26.04, 87.47], "nice": false, "zero": false},
                  "axis": {"orient": "right", "values": [40, 80], "format": ".2f", "tickSize": 5, "labelPadding": 11, "grid": true, "title": null}},
            "y2": {"datum": 70}
          }
        },
        {
          "data": {"values": [{}]},
          "mark": {"type": "rule", "color": "#AAAAAA", "strokeDash": [6, 4], "strokeWidth": 1},
          "encoding": {"x": {"datum": 1567294841000, "type": "temporal"}, "x2": {"datum": 1567411932000}, "y": {"datum": 70, "type": "quantitative"}}
        },
        {
          "data": {"values": [{}]},
          "mark": {"type": "rule", "color": "#AAAAAA", "strokeDash": [6, 4], "strokeWidth": 1},
          "encoding": {"x": {"datum": 1567294841000, "type": "temporal"}, "x2": {"datum": 1567411932000}, "y": {"datum": 30, "type": "quantitative"}}
        },
        {
          "mark": {"type": "line", "color": "#7E5BC9", "strokeWidth": 2, "clip": true},
          "encoding": {"x": {"field": "t", "type": "temporal"}, "y": {"field": "r", "type": "quantitative"}}
        },
        {
          "data": {"values": [{}]},
          "mark": {"type": "text", "text": "RSI (14, close)", "font": "DejaVu Sans", "fontSize": 20, "color": "#4a4a4a", "align": "left", "baseline": "middle"},
          "encoding": {"x": {"datum": 1567295482000, "type": "temporal"}, "y": {"datum": 64, "type": "quantitative"}}
        },
        {
          "data": {"values": [{}]},
          "mark": {"type": "rule", "color": "#63666b", "strokeWidth": 2, "clip": false},
          "encoding": {"x": {"datum": 1567418522000, "type": "temporal"}, "y": {"datum": -8.86, "type": "quantitative"}, "y2": {"datum": 87.47}}
        },
        {
          "data": {"values": [{}]},
          "mark": {"type": "rule", "color": "#63666b", "strokeWidth": 2, "clip": false},
          "encoding": {"x": {"datum": 1567411932000, "type": "temporal"}, "x2": {"datum": 1567418522000}, "y": {"datum": 26.04, "type": "quantitative"}}
        },
        {
          "data": {"values": [{}]},
          "mark": {"type": "rule", "color": "#63666b", "strokeWidth": 2, "clip": false},
          "encoding": {"x": {"datum": 1567294841000, "type": "temporal"}, "y": {"datum": -8.86, "type": "quantitative"}, "y2": {"datum": 26.04}}
        },
        {
          "data": {"values": [{}]},
          "mark": {"type": "rule", "color": "#63666b", "strokeWidth": 2, "clip": false},
          "encoding": {"x": {"datum": 1567411932000, "type": "temporal"}, "y": {"datum": -8.86, "type": "quantitative"}, "y2": {"datum": 26.04}}
        },
        {
          "data": {"values": [{}]},
          "mark": {"type": "rule", "color": "#63666b", "strokeWidth": 2, "clip": false},
          "encoding": {"x": {"datum": 1567294841000, "type": "temporal"}, "x2": {"datum": 1567418522000}, "y": {"datum": -8.86, "type": "quantitative"}}
        }
      ]
    }
  ],
  "config": {
    "view": {"stroke": "#63666b", "strokeWidth": 2},
    "axis": {"gridColor": "#E9EEF3", "gridWidth": 1, "domain": false, "tickColor": "#7a7d82", "labelColor": "#4e4e4e", "labelFont": "DejaVu Sans", "labelFontSize": 17, "title": null},
    "text": {"font": "DejaVu Sans"}
  }
}
